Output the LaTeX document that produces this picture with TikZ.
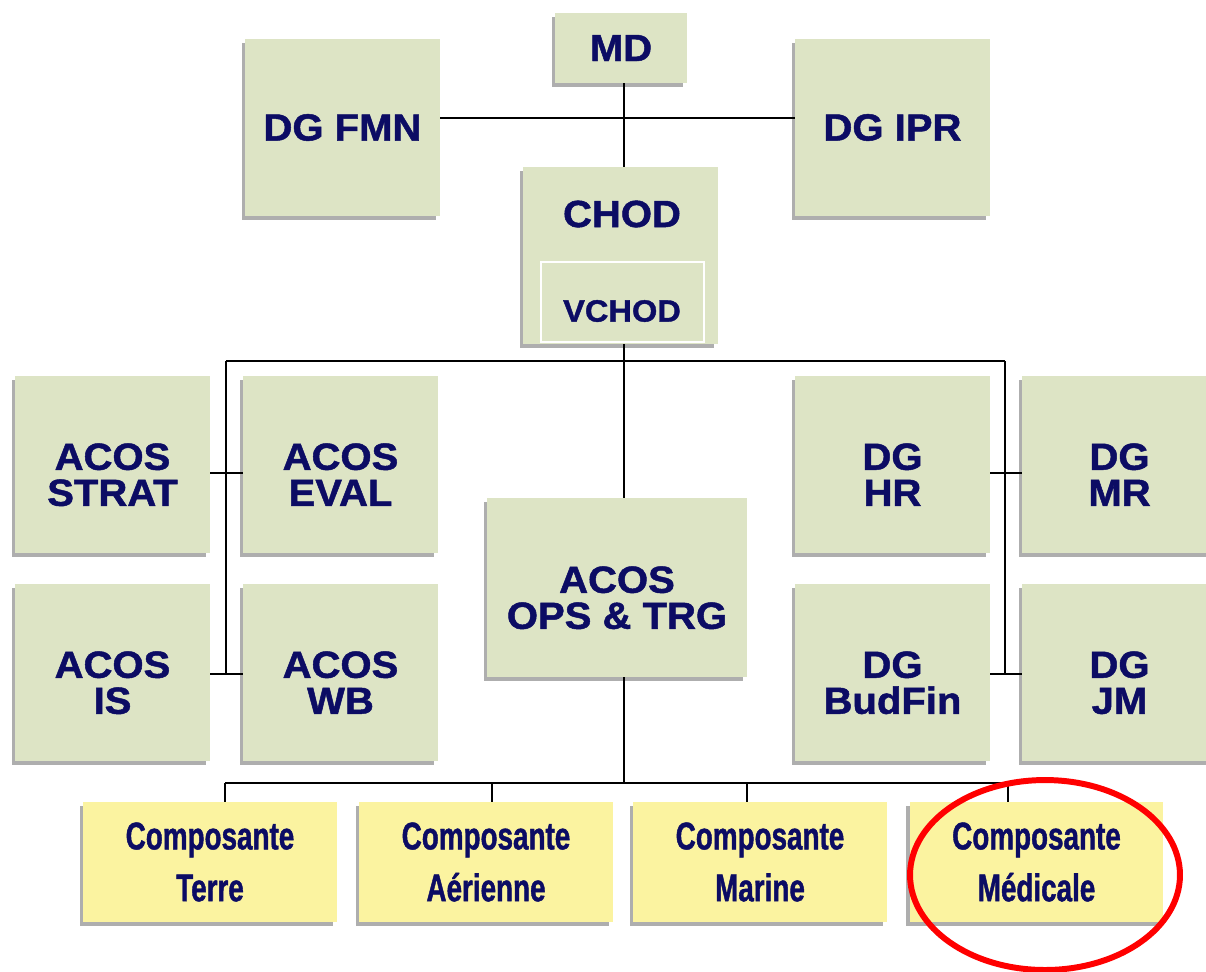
\documentclass[tikz,border=0pt]{standalone}
\usepackage{fontspec}
\setmainfont{Liberation Sans}
\newfontface\heavyfont[FakeBold=1.3, FakeStretch=1.06]{Liberation Sans Bold}
\newfontface\compfont[FakeStretch=0.72, FakeBold=1.1]{Liberation Sans Bold}
\usetikzlibrary{shadows}
\definecolor{sage}{RGB}{221,228,197}
\definecolor{paleyellow}{RGB}{251,243,160}
\definecolor{navy}{RGB}{12,12,100}
\tikzset{
  gbox/.style={fill=sage, minimum width=3.9cm, minimum height=3.54cm, inner sep=0pt,
    drop shadow={shadow xshift=-2pt, shadow yshift=-2.5pt, opacity=.45, fill=black!70},
    text=navy, align=center, font=\heavyfont\fontsize{21.5}{20.5}\selectfont},
  twoline/.style={text height=47pt, text depth=0pt},
  ybox/.style={fill=paleyellow, minimum width=5.08cm, minimum height=2.4cm, inner sep=0pt,
    drop shadow={shadow xshift=-2pt, shadow yshift=-2.5pt, opacity=.45, fill=black!70},
    text=navy, align=center, font=\compfont\fontsize{22}{29.5}\selectfont},
  link/.style={line width=1.1pt}
}
\begin{document}
\begin{tikzpicture}[x=0.02cm, y=-0.02cm]
\useasboundingbox (0,0) rectangle (1206,971);
% top level
\node[gbox, minimum width=2.64cm, minimum height=1.4cm] (md) at (621,48) {MD};
\node[gbox] (fmn) at (342.5,127.5) {DG FMN};
\node[gbox] (ipr) at (892.5,127.5) {DG IPR};
\node[gbox] (chod) at (620.5,255.5) {};
\node[text=navy, font=\heavyfont\fontsize{21.5}{21}\selectfont] (chodtxt) at (622,214) {CHOD};
\node[draw=white, line width=0.6pt, minimum width=3.26cm, minimum height=1.6cm, inner sep=0pt] (vchod) at (622.5,302) {};
\node[text=navy, font=\heavyfont\fontsize{17.5}{17}\selectfont] (vchodtxt) at (622,311) {VCHOD};
% staff
\node[gbox, twoline] (strat) at (112.5,464.5) {ACOS\\STRAT};
\node[gbox, twoline] (eval) at (340.5,464.5) {ACOS\\EVAL};
\node[gbox, twoline] (is) at (112.5,672.5) {ACOS\\IS};
\node[gbox, twoline] (wb) at (340.5,672.5) {ACOS\\WB};
\node[gbox, twoline, minimum width=5.2cm, minimum height=3.58cm] (ops) at (617,587.5) {ACOS\\OPS \& TRG};
\node[gbox, twoline] (hr) at (892.5,464.5) {DG\\HR};
\node[gbox, twoline] (mr) at (1119.5,464.5) {DG\\MR};
\node[gbox, twoline] (budfin) at (892.5,672.5) {DG\\BudFin};
\node[gbox, twoline] (jm) at (1119.5,672.5) {DG\\JM};
% components
\node[ybox] (terre) at (210,862) {Composante\\Terre};
\node[ybox] (aer) at (486,862) {Composante\\Aérienne};
\node[ybox] (mar) at (760,862) {Composante\\Marine};
\node[ybox] (med) at (1036.5,862) {Composante\\Médicale};

% bus points
\coordinate (topbus) at (624,118);
\coordinate (lbus) at (226,361);
\coordinate (rbus) at (1005,361);
\coordinate (trunk) at (624,361);
\coordinate (ls1) at (226,473);
\coordinate (ls2) at (226,674);
\coordinate (rs1) at (1005,473);
\coordinate (rs2) at (1005,674);
\coordinate (bl) at (225,783);
\coordinate (ba) at (492,783);
\coordinate (bm) at (747,783);
\coordinate (br) at (1008,783);

\draw[link] (md.south -| topbus) -- (chod.north -| topbus);
\draw[link] (fmn.east |- topbus) -- (ipr.west |- topbus);
\draw[link] (chod.south -| trunk) -- (ops.north -| trunk);
\draw[link] (lbus) -- (rbus);
\draw[link] (lbus) -- (ls2);
\draw[link] (rbus) -- (rs2);
\draw[link] (strat.east |- ls1) -- (eval.west |- ls1);
\draw[link] (is.east |- ls2) -- (wb.west |- ls2);
\draw[link] (hr.east |- rs1) -- (mr.west |- rs1);
\draw[link] (budfin.east |- rs2) -- (jm.west |- rs2);
\draw[link] (ops.south -| trunk) -- (trunk |- bl);
\draw[link] (bl) -- (br);
\draw[link] (bl) -- (terre.north -| bl);
\draw[link] (ba) -- (aer.north -| ba);
\draw[link] (bm) -- (mar.north -| bm);
\draw[link] (br) -- (med.north -| br);

% highlight
\draw[red, line width=3.4pt] (1045,875) ellipse (2.7cm and 1.9cm);
\end{tikzpicture}
\end{document}
